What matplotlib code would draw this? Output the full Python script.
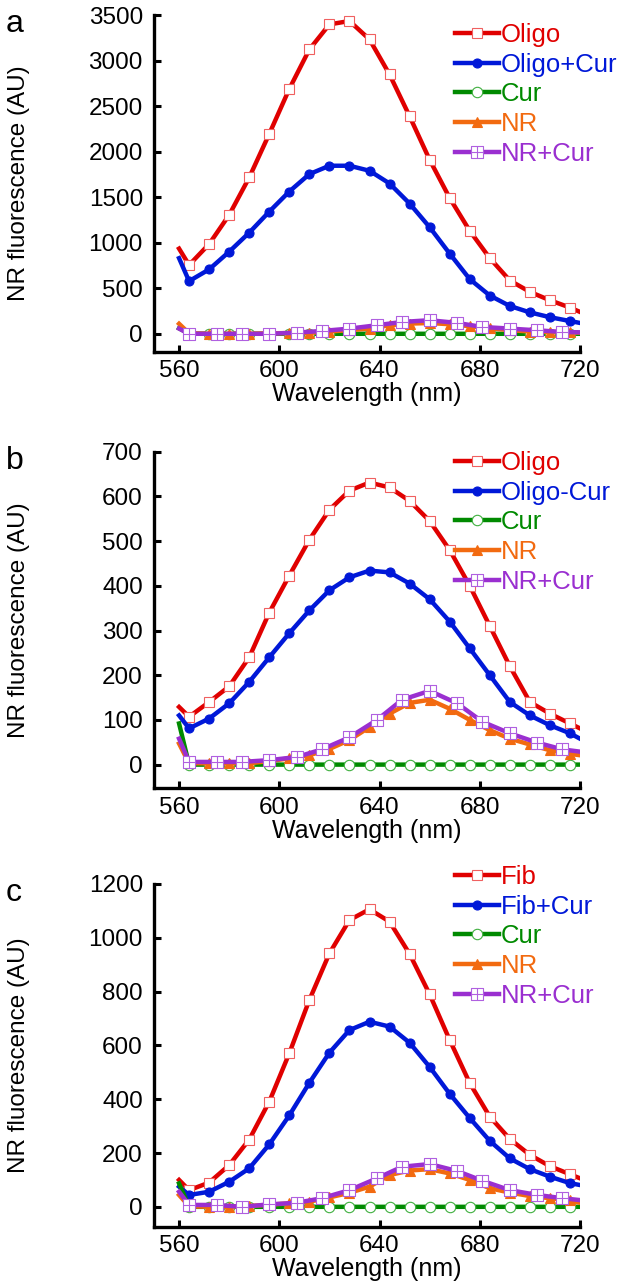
import matplotlib

matplotlib.use("Agg")
import matplotlib.pyplot as plt
from matplotlib.path import Path

plt.rcParams["font.family"] = ["Liberation Sans", "DejaVu Sans"]

# wavelength grids (nm): line start/end points plus marker positions
WL = [560, 564, 572, 580, 588, 596, 604, 612, 620, 628, 636, 644, 652, 660, 668, 676, 684, 692, 700, 708, 716, 720]
WLP = [560, 564, 575, 585, 596, 607, 617, 628, 639, 649, 660, 671, 681, 692, 703, 713, 720]

# panel a
oligo_a = [935, 755, 985, 1305, 1716, 2195, 2689, 3122, 3397, 3434, 3232, 2847, 2388, 1910, 1490, 1130, 830, 585, 460, 368, 288, 240]
oligocur_a = [830, 578, 707, 901, 1110, 1341, 1562, 1753, 1845, 1845, 1790, 1650, 1430, 1170, 880, 600, 420, 305, 235, 182, 140, 119]
cur_a = [60, 2, 0, 0, 0, 0, 0, 0, 0, 0, 0, 0, 0, 0, 0, 0, 0, 0, 0, 0, 0, 0]
nr_a = [110, 5, 0, 0, 0, 5, 8, 10, 25, 40, 57, 94, 112, 118, 105, 83, 60, 40, 25, 20, 15, 12]
nrcur_a = [57, 0, 0, 0, 0, 13, 31, 57, 94, 130, 149, 119, 75, 57, 38, 20, 16]

# panel b
oligo_b = [129, 107, 140, 175, 240, 340, 423, 503, 570, 613, 631, 620, 590, 545, 480, 400, 310, 220, 140, 114, 92, 81]
oligocur_b = [110, 81, 103, 137, 185, 240, 294, 345, 390, 419, 434, 430, 405, 370, 320, 260, 200, 140, 110, 88, 70, 58]
cur_b = [92, 0, 0, 0, 0, 0, 0, 0, 0, 0, 0, 0, 0, 0, 0, 0, 0, 0, 0, 0, 0, 0]
nr_b = [47, 3, 3, 3, 3, 8, 14, 21, 35, 55, 84, 114, 138, 145, 125, 100, 77, 58, 45, 32, 24, 21]
nrcur_b = [58, 6, 6, 6, 10, 17, 34, 61, 100, 145, 165, 137, 96, 70, 49, 34, 29]

# panel c
fib_c = [100, 62, 90, 155, 250, 391, 571, 769, 942, 1066, 1106, 1060, 940, 790, 620, 460, 335, 252, 193, 151, 121, 106]
fibcur_c = [75, 44, 56, 93, 143, 232, 340, 461, 573, 657, 688, 670, 610, 520, 420, 330, 245, 180, 140, 112, 88, 81]
cur_c = [87, 0, 0, 0, 0, 0, 0, 0, 0, 0, 0, 0, 0, 0, 0, 0, 0, 0, 0, 0, 0, 0]
nr_c = [44, 2, 0, 0, 3, 8, 13, 19, 35, 52, 75, 118, 135, 140, 124, 100, 69, 53, 40, 32, 24, 15]
nrcur_c = [56, 7, 7, 0, 9, 15, 32, 62, 106, 149, 159, 133, 97, 62, 44, 32, 25]

# square-with-cross marker for NR+Cur
sq_cross = Path(
    [(-1, -1), (1, -1), (1, 1), (-1, 1), (-1, -1), (0, -1), (0, 1), (-1, 0), (1, 0)],
    [Path.MOVETO, Path.LINETO, Path.LINETO, Path.LINETO, Path.CLOSEPOLY,
     Path.MOVETO, Path.LINETO, Path.MOVETO, Path.LINETO],
)

RED, BLUE, GREEN, ORANGE, PURPLE = "#e00000", "#0018d8", "#008a00", "#f26a10", "#9a2fd0"

# letter, legend labels, series, ylim, yticks, axes top px, axes bottom px, legend first row centre px
panels = [
    ("a", ["Oligo", "Oligo+Cur", "Cur", "NR", "NR+Cur"], [oligo_a, oligocur_a, cur_a, nr_a, nrcur_a],
     (-200, 3500), [0, 500, 1000, 1500, 2000, 2500, 3000, 3500], 15, 352, 35),
    ("b", ["Oligo", "Oligo-Cur", "Cur", "NR", "NR+Cur"], [oligo_b, oligocur_b, cur_b, nr_b, nrcur_b],
     (-53, 700), [0, 100, 200, 300, 400, 500, 600, 700], 451.7, 788.3, 463),
    ("c", ["Fib", "Fib+Cur", "Cur", "NR", "NR+Cur"], [fib_c, fibcur_c, cur_c, nr_c, nrcur_c],
     (-75, 1200), [0, 200, 400, 600, 800, 1000, 1200], 884, 1227, 877),
]

W, H = 638, 1288
fig = plt.figure(figsize=(W / 100, H / 100), dpi=100)

for letter, labels, series, ylim, yticks, top, bot, legy in panels:
    ax = fig.add_axes([154 / W, 1 - bot / H, (580 - 154) / W, (bot - top) / H])
    mk = list(range(1, len(WL) - 1))
    mkp = list(range(1, len(WLP) - 1))
    styles = [
        dict(color=RED, marker="s", ms=7.5, mfc="white", mec="#f06060", mew=0.8),
        dict(color=BLUE, marker="o", ms=6.5, mfc=BLUE, mec=BLUE, mew=0.8),
        dict(color=GREEN, marker="o", ms=7.5, mfc="white", mec="#40b040", mew=0.8),
        dict(color=ORANGE, marker="^", ms=7, mfc=ORANGE, mec=ORANGE, mew=0.8),
        dict(color=PURPLE, marker=sq_cross, ms=8, mfc="white", mec="#b060e0", mew=0.8),
    ]
    lines = []
    for i, (lab, y, st) in enumerate(zip(labels, series, styles)):
        x = WLP if i == 4 else WL
        ln, = ax.plot(x, y, lw=3.2, markevery=(mkp if i == 4 else mk), label=lab, **st)
        lines.append(ln)

    ax.set_xlim(550, 720)
    ax.set_ylim(*ylim)
    ax.set_xticks([560, 600, 640, 680, 720])
    ax.set_yticks(yticks)
    for s in ["top", "right"]:
        ax.spines[s].set_visible(False)
    for s in ["left", "bottom"]:
        ax.spines[s].set_linewidth(2.4)
    ax.tick_params(direction="in", length=5, width=2.2, labelsize=17.5)
    ax.tick_params(axis="y", pad=8)
    ax.tick_params(axis="x", pad=6)
    ax.set_xlabel("Wavelength (nm)", fontsize=18, labelpad=0)
    ax.set_ylabel("NR fluorescence (AU)", fontsize=17.5)
    ax.yaxis.set_label_coords(-0.29, 0.5)

    leg = ax.legend(
        loc="upper left", bbox_to_anchor=(455 / W, 1 - (legy - 12) / H), bbox_transform=fig.transFigure,
        frameon=False, fontsize=18.5, handlelength=1.7, handletextpad=0.1, labelspacing=0.22,
        borderpad=0, borderaxespad=0,
    )
    for t, ln in zip(leg.get_texts(), lines):
        t.set_color(ln.get_color())

    fig.text(6 / W, 1 - (top - 6) / H, letter, fontsize=23, va="top", ha="left")

plt.savefig("out.png", dpi=100)
